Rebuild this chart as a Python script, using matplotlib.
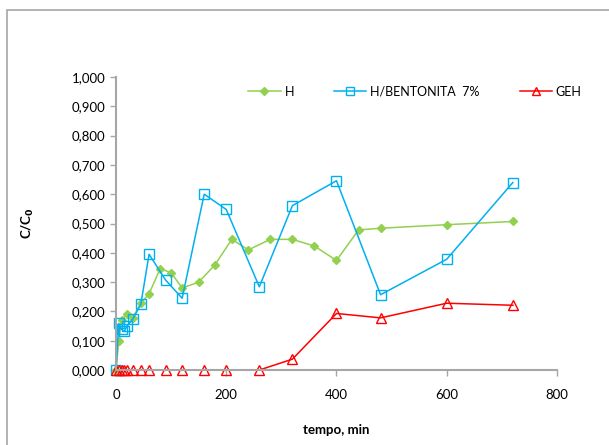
import matplotlib
matplotlib.use("Agg")
import matplotlib.pyplot as plt
from matplotlib.patches import Rectangle
from matplotlib.ticker import FuncFormatter

plt.rcParams["font.family"] = ["Lato", "DejaVu Sans"]

# H
t_h = [0, 5, 10, 20, 30, 45, 60, 80, 100, 120, 150, 180, 210, 240, 280, 320, 360, 400, 440, 480, 600, 720]
c_h = [0.000, 0.100, 0.172, 0.190, 0.177, 0.228, 0.260, 0.346, 0.332, 0.280, 0.300, 0.360, 0.446, 0.410, 0.446, 0.446, 0.423, 0.374, 0.478, 0.484, 0.496, 0.507]

# H/BENTONITA 7%
t_hb = [0, 5, 10, 15, 20, 30, 45, 60, 90, 120, 160, 200, 260, 320, 400, 480, 600, 720]
c_hb = [0.000, 0.159, 0.139, 0.132, 0.150, 0.173, 0.224, 0.395, 0.307, 0.245, 0.600, 0.548, 0.284, 0.561, 0.646, 0.257, 0.378, 0.640]

# GEH
t_geh = [0, 5, 10, 15, 20, 30, 45, 60, 90, 120, 160, 200, 260, 320, 400, 480, 600, 720]
c_geh = [0, 0, 0, 0, 0, 0, 0, 0, 0, 0, 0, 0, 0, 0.037, 0.193, 0.178, 0.228, 0.221]

fig = plt.figure(figsize=(6.09, 4.45), dpi=100)
ax = fig.add_axes([0.1905, 0.1685, 0.724, 0.6584])

# outer chart frame
fig.patches.append(Rectangle((7 / 609, -0.1), 1.2, 1 - 10 / 445 + 0.1,
                             transform=fig.transFigure, fill=False,
                             edgecolor="#a6a6a6", linewidth=1.2))

ax.plot(t_h, c_h, color="#92D050", marker="D", markersize=4.5,
        markeredgecolor="#92D050", linewidth=1.1, label="H", clip_on=False)
ax.plot(t_hb, c_hb, color="#00B0F0", marker="s", markersize=6.5,
        markerfacecolor="none", markeredgecolor="#00B0F0", linewidth=1.1,
        label="H/BENTONITA  7%", clip_on=False)
ax.plot(t_geh, c_geh, color="#FF0000", marker="^", markersize=6.5,
        markerfacecolor="none", markeredgecolor="#FF0000", linewidth=1.1,
        label="GEH", clip_on=False)

ax.set_xlim(0, 800)
ax.set_ylim(0, 1.0)
ax.set_xticks([0, 200, 400, 600, 800])
ax.set_yticks([i / 10 for i in range(11)])
ax.yaxis.set_major_formatter(FuncFormatter(lambda v, p: f"{v:.3f}".replace(".", ",")))

for s in ["top", "right"]:
    ax.spines[s].set_visible(False)
for s in ["left", "bottom"]:
    ax.spines[s].set_color("#a6a6a6")
    ax.spines[s].set_linewidth(1.5)
ax.tick_params(axis="both", colors="#a6a6a6", labelcolor="black",
               labelsize=9.5, length=4, width=1)
ax.tick_params(axis="x", pad=10)

ax.set_xlabel("tempo, min", fontsize=9.5, fontweight="bold", labelpad=16)
ax.set_ylabel("C/C$_\\mathbf{0}$", fontsize=9.5, fontweight="bold", labelpad=26)

ax.legend(loc="upper left", bbox_to_anchor=(0.28, 1.0), ncol=3, frameon=False,
          fontsize=9, handlelength=2.6, columnspacing=3.2, handletextpad=0.3,
          borderaxespad=0.3, markerscale=0.8)

fig.savefig("out.png", dpi=100)
